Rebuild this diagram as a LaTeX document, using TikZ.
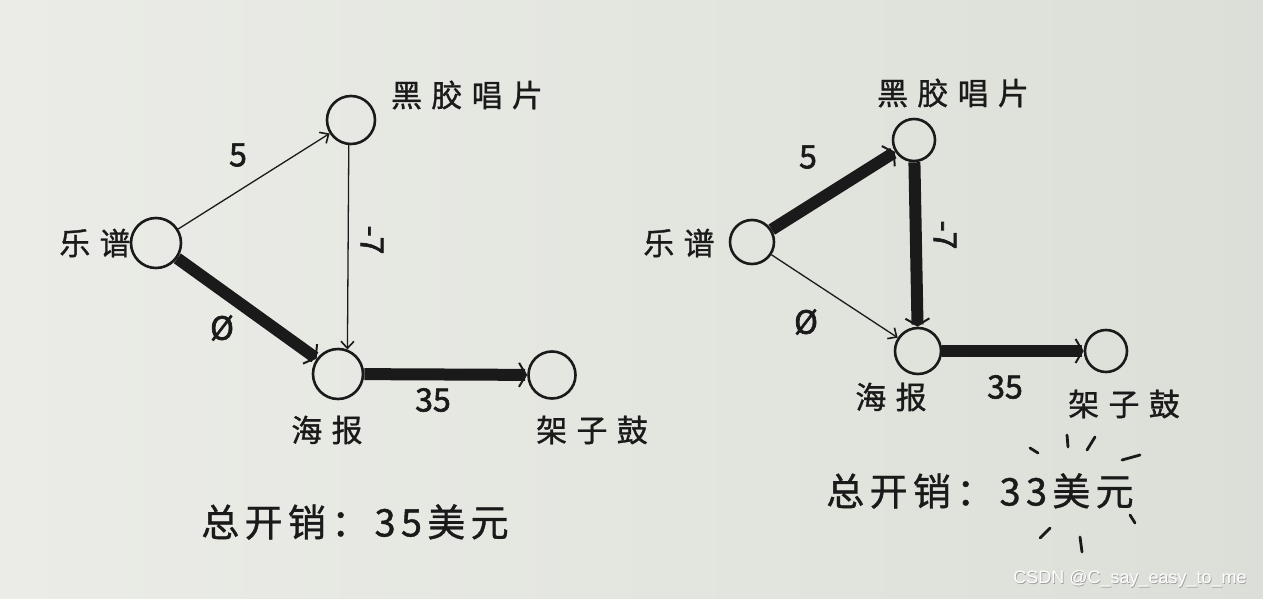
\documentclass[tikz,border=0pt]{standalone}
\usepackage{fontspec}
\newfontfamily\cjk{Noto Sans CJK SC}[LetterSpace=30,FakeBold=1]
\newfontfamily\cjkt{Noto Sans CJK SC}[LetterSpace=14,FakeBold=1]
\newfontfamily\cjkn{Noto Sans CJK SC}[FakeBold=2]
\newfontfamily\wm{Liberation Sans}
\usetikzlibrary{arrows.meta}
\definecolor{paperL}{HTML}{EBECE7}
\definecolor{paperR}{HTML}{DCDFD8}
\definecolor{ink}{HTML}{1A1A1A}
\tikzset{
  vtx/.style={circle,draw=ink,line width=2.6pt,inner sep=0pt},
  lbl/.style={font=\cjk\fontsize{31}{33}\selectfont,text=ink,inner sep=0pt},
  num/.style={font=\cjkn\fontsize{32}{34}\selectfont,text=ink,inner sep=0pt},
  tot/.style={font=\cjkt\fontsize{38}{40}\selectfont,text=ink,inner sep=0pt},
  thinedge/.style={draw=ink,line width=1.3pt,-{Straight Barb[length=7pt,width=13pt,line width=1.6pt]}},
  thickedge/.style={draw=ink,line width=12pt,-{Straight Barb[length=7pt,width=24pt,line width=2pt]}},
  spark/.style={draw=ink,line width=2.8pt,line cap=round},
}
\begin{document}
\begin{tikzpicture}[x=1pt,y=-1pt]
\useasboundingbox (0,0) rectangle (1263,599);
\shade[left color=paperL,right color=paperR] (0,0) rectangle (1263,599);

% ---------- left graph ----------
\node[vtx,minimum size=50pt] (La) at (156,243) {};
\node[vtx,minimum size=48pt] (Lb) at (351,120) {};
\node[vtx,minimum size=50pt] (Lc) at (338,374) {};
\node[vtx,minimum size=47pt] (Ld) at (552,375) {};
\node[lbl] (La-t) at (95,243) {乐谱};
\node[lbl] (Lb-t) at (467,95) {黑胶唱片};
\node[lbl] (Lc-t) at (327,430) {海报};
\node[lbl] (Ld-t) at (592,430) {架子鼓};
\draw[thinedge] (La) -- (Lb);
\draw[thinedge] (Lb.265) -- (Lc.69);
\draw[thickedge] (La) -- (Lc);
\draw[thickedge] (Lc) -- (Ld);
\node[num] (L5) at (238,155) {5};
\node[num,rotate=-90] (L7) at (372,240) {-7};
\node[num] (L0) at (222,328) {Ø};
\node[num] (L35) at (433,400) {35};
\node[tot] (Ltot) at (355,522) {总开销：35美元};

% ---------- right graph ----------
\node[vtx,minimum size=44pt] (Ra) at (752,242) {};
\node[vtx,minimum size=42pt] (Rb) at (914,140) {};
\node[vtx,minimum size=46pt] (Rc) at (918,351) {};
\node[vtx,minimum size=42pt] (Rd) at (1106,351) {};
\node[lbl] (Ra-t) at (679,243) {乐谱};
\node[lbl] (Rb-t) at (953,93) {黑胶唱片};
\node[lbl] (Rc-t) at (891,397) {海报};
\node[lbl] (Rd-t) at (1124,404) {架子鼓};
\draw[thickedge] (Ra) -- (Rb);
\draw[thickedge] (Rb) -- (Rc);
\draw[thinedge] (Ra) -- (Rc);
\draw[thickedge] (Rc) -- (Rd);
\node[num] (R5) at (808,157) {5};
\node[num,rotate=-90] (R7) at (945,235) {-7};
\node[num] (R0) at (806,322) {Ø};
\node[num] (R35) at (1005,387) {35};
\node[tot] (Rtot) at (980,491) {总开销：33美元};

% sparkle strokes
\draw[spark] (1030,448) -- (1038,453);
\draw[spark] (1067,435) -- (1068,447);
\draw[spark] (1095,437) -- (1087,450);
\draw[spark] (1122,460) -- (1140,455);
\draw[spark] (1130,515) -- (1135,523);
\draw[spark] (1050,528) -- (1040,538);
\draw[spark] (1080,537) -- (1082,552);

% watermark
\node[font=\wm\fontsize{18}{20}\selectfont,text=gray!75,inner sep=0pt] (wm-s) at (1130.8,579.8) {CSDN @C\_say\_easy\_to\_me};
\node[font=\wm\fontsize{18}{20}\selectfont,text=white,inner sep=0pt] (wm) at (1130,579) {CSDN @C\_say\_easy\_to\_me};
\end{tikzpicture}
\end{document}
